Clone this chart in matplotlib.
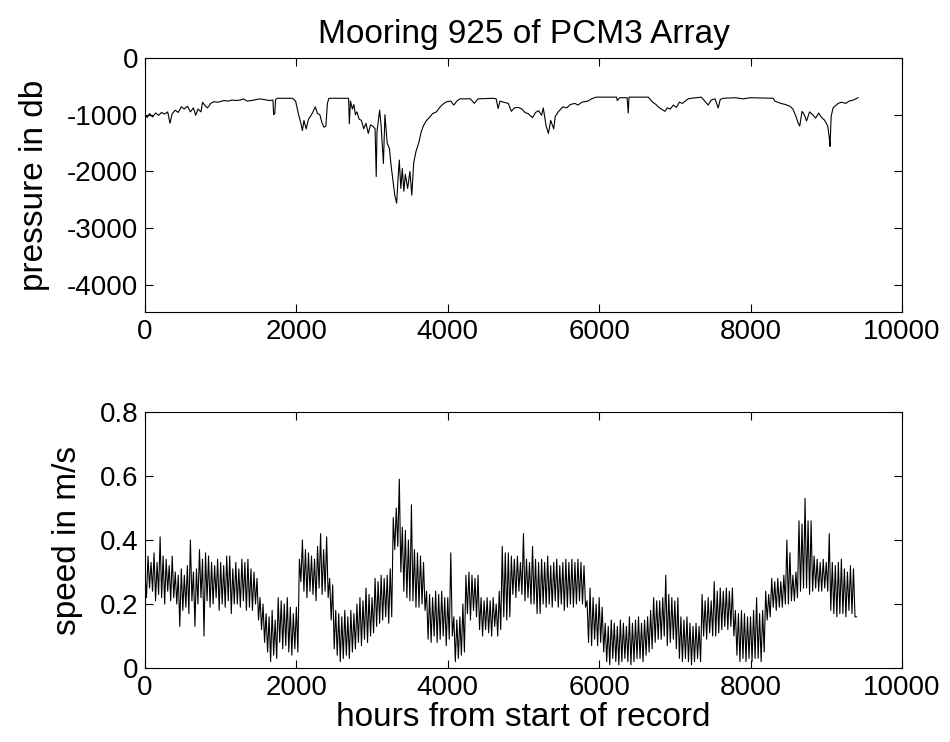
import numpy as np
import matplotlib
matplotlib.use("Agg")
import matplotlib.pyplot as plt

# ---- pressure record (hours, db) ----
pres_hours = [
    0, 30, 60, 100, 140, 180, 220, 260, 300, 330, 360, 400, 440, 480, 520, 560,
    600, 640, 670, 700, 740, 760, 800, 825, 870, 910, 960, 1045, 1100, 1150,
    1200, 1265, 1300, 1350, 1400, 1450, 1510, 1560, 1650, 1690, 1700, 1715,
    1725, 1750, 1950, 1990, 2030, 2060, 2080, 2100, 2130, 2160, 2200, 2230,
    2250, 2280, 2310, 2340, 2365, 2390, 2410, 2430, 2690, 2700, 2715, 2740,
    2760, 2780, 2800, 2830, 2860, 2890, 2920, 2950, 2980, 3010, 3040, 3055,
    3065, 3100, 3120, 3150, 3170, 3200, 3230, 3250, 3270, 3300, 3325, 3340,
    3360, 3380, 3400, 3420, 3440, 3470, 3500, 3525, 3550, 3580, 3620, 3650,
    3680, 3720, 3750, 3800, 3850, 3900, 3950, 3990, 4040, 4080, 4120, 4160,
    4300, 4350, 4400, 4600, 4640, 4665, 4690, 4740, 4800, 4840, 4880, 4930,
    4980, 5020, 5060, 5120, 5160, 5200, 5240, 5262, 5300, 5330, 5360, 5400,
    5420, 5460, 5520, 5570, 5620, 5680, 5720, 5770, 5850, 5900, 5960, 6230,
    6240, 6270, 6370, 6384, 6395, 6650, 6700, 6750, 6780, 6820, 6870, 6900,
    6940, 6980, 7020, 7060, 7100, 7176, 7220, 7350, 7441, 7480, 7530, 7573,
    7600, 7640, 7800, 7900, 8000, 8300, 8321, 8400, 8460, 8520, 8560, 8600,
    8630, 8650, 8680, 8710, 8740, 8780, 8820, 8860, 8900, 8940, 8980, 9020,
    9040, 9050, 9065, 9090, 9157, 9200, 9260, 9300, 9360, 9420,
]
pres_db = [
    -1000, -1050, -980, -1040, -970, -1010, -960, -990, -950, -1150, -980,
    -920, -960, -860, -900, -850, -950, -880, -1010, -900, -950, -780, -850,
    -880, -800, -770, -780, -750, -760, -740, -750, -740, -720, -760, -750,
    -740, -720, -730, -750, -740, -1000, -980, -730, -710, -710, -760, -1000,
    -1150, -1280, -1100, -1250, -1080, -1000, -920, -860, -980, -1000, -1150,
    -1220, -1200, -800, -710, -710, -1160, -760, -900, -820, -1000, -950,
    -1080, -1100, -1250, -1150, -1330, -1180, -1200, -1250, -2090, -1300,
    -920, -1200, -1860, -1000, -1500, -1600, -1880, -2100, -2420, -2560,
    -2200, -1800, -2300, -1950, -2350, -2050, -2300, -2000, -2420, -1850,
    -1650, -1480, -1300, -1190, -1100, -1060, -980, -950, -860, -800, -770,
    -760, -830, -760, -720, -720, -800, -720, -710, -720, -890, -760, -780,
    -800, -940, -880, -870, -900, -960, -980, -1050, -960, -930, -1010, -880,
    -1200, -1330, -1100, -1250, -1030, -950, -860, -880, -820, -800, -830,
    -780, -760, -720, -690, -690, -750, -700, -700, -970, -690, -690, -770,
    -820, -860, -900, -940, -880, -900, -830, -870, -780, -800, -720, -710,
    -690, -830, -740, -720, -880, -730, -710, -700, -720, -700, -710, -760,
    -800, -820, -850, -900, -1030, -1150, -1200, -940, -1000, -1110, -950,
    -1000, -1060, -970, -1050, -1100, -1200, -1400, -1560, -1030, -880, -800,
    -780, -800, -760, -740, -700,
]

# ---- current speed (m/s), one reading every 20 h ----
speed_step = 20
speed_ms = [
    # 0-380
    0.30, 0.22, 0.35, 0.25, 0.33, 0.24, 0.36, 0.21, 0.33, 0.23,
    0.41, 0.22, 0.35, 0.20, 0.34, 0.24, 0.32, 0.21, 0.35, 0.22,
    # 400-780
    0.30, 0.20, 0.29, 0.13, 0.31, 0.18, 0.29, 0.19, 0.32, 0.17,
    0.40, 0.21, 0.30, 0.13, 0.31, 0.20, 0.37, 0.22, 0.34, 0.10,
    # 800-1180
    0.36, 0.21, 0.35, 0.19, 0.33, 0.20, 0.32, 0.22, 0.34, 0.18,
    0.33, 0.20, 0.32, 0.19, 0.35, 0.21, 0.35, 0.17, 0.31, 0.20,
    # 1200-1580
    0.33, 0.20, 0.31, 0.19, 0.34, 0.21, 0.33, 0.18, 0.34, 0.19,
    0.31, 0.18, 0.30, 0.20, 0.28, 0.15, 0.22, 0.12, 0.20, 0.08,
    # 1600-1980
    0.17, 0.05, 0.16, 0.02, 0.18, 0.04, 0.15, 0.03, 0.22, 0.08,
    0.21, 0.06, 0.20, 0.07, 0.22, 0.05, 0.19, 0.04, 0.17, 0.06,
    # 2000-2380
    0.19, 0.05, 0.34, 0.27, 0.40, 0.24, 0.37, 0.22, 0.36, 0.24,
    0.35, 0.23, 0.34, 0.21, 0.38, 0.25, 0.42, 0.23, 0.37, 0.24,
    # 2400-2780
    0.41, 0.22, 0.28, 0.15, 0.26, 0.06, 0.18, 0.04, 0.17, 0.02,
    0.16, 0.03, 0.18, 0.04, 0.16, 0.03, 0.18, 0.05, 0.17, 0.06,
    # 2800-3180
    0.20, 0.08, 0.22, 0.07, 0.21, 0.09, 0.25, 0.08, 0.23, 0.10,
    0.22, 0.11, 0.28, 0.13, 0.27, 0.14, 0.29, 0.15, 0.28, 0.16,
    # 3200-3580
    0.29, 0.14, 0.31, 0.16, 0.47, 0.37, 0.50, 0.38, 0.59, 0.30,
    0.44, 0.24, 0.43, 0.22, 0.40, 0.21, 0.51, 0.21, 0.37, 0.19,
    # 3600-3980
    0.36, 0.19, 0.35, 0.20, 0.33, 0.18, 0.24, 0.09, 0.23, 0.08,
    0.22, 0.10, 0.24, 0.08, 0.23, 0.09, 0.24, 0.10, 0.22, 0.07,
    # 4000-4380
    0.22, 0.09, 0.36, 0.10, 0.16, 0.02, 0.15, 0.03, 0.16, 0.04,
    0.20, 0.05, 0.29, 0.17, 0.30, 0.15, 0.29, 0.18, 0.28, 0.16,
    # 4400-4780
    0.29, 0.12, 0.22, 0.10, 0.21, 0.12, 0.22, 0.11, 0.21, 0.10,
    0.22, 0.13, 0.20, 0.10, 0.24, 0.12, 0.38, 0.16, 0.36, 0.15,
    # 4800-5180
    0.36, 0.16, 0.35, 0.23, 0.34, 0.22, 0.35, 0.24, 0.33, 0.23,
    0.42, 0.21, 0.34, 0.22, 0.33, 0.20, 0.38, 0.20, 0.34, 0.17,
    # 5200-5580
    0.33, 0.17, 0.34, 0.20, 0.33, 0.19, 0.35, 0.20, 0.32, 0.19,
    0.33, 0.21, 0.34, 0.19, 0.32, 0.20, 0.33, 0.18, 0.34, 0.19,
    # 5600-5980
    0.33, 0.20, 0.34, 0.19, 0.33, 0.20, 0.34, 0.21, 0.33, 0.20,
    0.32, 0.19, 0.21, 0.08, 0.25, 0.07, 0.22, 0.09, 0.20, 0.07,
    # 6000-6380
    0.22, 0.08, 0.19, 0.05, 0.14, 0.02, 0.13, 0.01, 0.15, 0.03,
    0.14, 0.02, 0.13, 0.01, 0.15, 0.02, 0.14, 0.03, 0.13, 0.02,
    # 6400-6780
    0.16, 0.01, 0.14, 0.02, 0.15, 0.03, 0.16, 0.03, 0.14, 0.02,
    0.15, 0.04, 0.16, 0.05, 0.18, 0.06, 0.22, 0.08, 0.21, 0.09,
    # 6800-7180
    0.21, 0.09, 0.22, 0.10, 0.29, 0.07, 0.23, 0.08, 0.22, 0.09,
    0.21, 0.06, 0.22, 0.03, 0.16, 0.02, 0.15, 0.03, 0.16, 0.02,
    # 7200-7580
    0.14, 0.01, 0.13, 0.02, 0.14, 0.03, 0.13, 0.02, 0.23, 0.10,
    0.21, 0.09, 0.22, 0.11, 0.21, 0.10, 0.27, 0.10, 0.24, 0.11,
    # 7600-7980
    0.25, 0.12, 0.24, 0.13, 0.25, 0.12, 0.24, 0.13, 0.25, 0.10,
    0.18, 0.04, 0.17, 0.02, 0.18, 0.03, 0.17, 0.02, 0.16, 0.03,
    # 8000-8380
    0.16, 0.02, 0.18, 0.03, 0.22, 0.03, 0.17, 0.02, 0.18, 0.05,
    0.24, 0.15, 0.23, 0.16, 0.28, 0.19, 0.27, 0.18, 0.28, 0.19,
    # 8400-8780
    0.27, 0.19, 0.29, 0.20, 0.40, 0.20, 0.36, 0.21, 0.29, 0.21,
    0.30, 0.22, 0.46, 0.24, 0.45, 0.25, 0.53, 0.25, 0.46, 0.23,
    # 8800-9180
    0.46, 0.24, 0.35, 0.25, 0.34, 0.24, 0.33, 0.24, 0.34, 0.25,
    0.33, 0.24, 0.42, 0.18, 0.33, 0.17, 0.32, 0.16, 0.33, 0.17,
    # 9200-9400
    0.34, 0.17, 0.31, 0.16, 0.30, 0.18, 0.32, 0.17, 0.31, 0.16,
    0.16,
]
speed_hours = np.arange(len(speed_ms)) * speed_step

title = "Mooring 925 of PCM3 Array"
xticks = [0, 2000, 4000, 6000, 8000, 10000]

plt.rcParams["font.family"] = ["Liberation Sans", "DejaVu Sans"]
plt.rcParams["axes.linewidth"] = 0.8
LABEL_FS = 24


def style(ax):
    ax.tick_params(direction="in", length=6, width=0.8, top=True, right=True,
                   labelsize=20, pad=5)
    ax.set_xlim(0, 10000)
    ax.set_xticks(xticks)


fig = plt.figure(figsize=(9.5, 7.42), dpi=100)

# --- pressure ---
ax1 = fig.add_axes([0.1526, 0.5795, 0.7968, 0.3423])
ax1.plot(pres_hours, pres_db, color="black", lw=0.8)
style(ax1)
ax1.set_ylim(-4480, 0)
ax1.set_yticks([0, -1000, -2000, -3000, -4000])
ax1.set_yticklabels(["0", "-1000", "-2000", "-3000", "-4000"])
ax1.set_ylabel("pressure in db", fontsize=LABEL_FS, labelpad=12)
ax1.set_title(title, fontsize=LABEL_FS, pad=11)

# --- speed ---
ax2 = fig.add_axes([0.1526, 0.0997, 0.7968, 0.3450])
ax2.plot(speed_hours, speed_ms, color="black", lw=0.8)
style(ax2)
ax2.set_ylim(0, 0.8)
ax2.set_yticks([0, 0.2, 0.4, 0.6, 0.8])
ax2.set_yticklabels(["0", "0.2", "0.4", "0.6", "0.8"])
ax2.set_ylabel("speed in m/s", fontsize=LABEL_FS, labelpad=12)
ax2.set_xlabel("hours from start of record", fontsize=LABEL_FS, labelpad=1)

fig.savefig("out.png", dpi=100)
